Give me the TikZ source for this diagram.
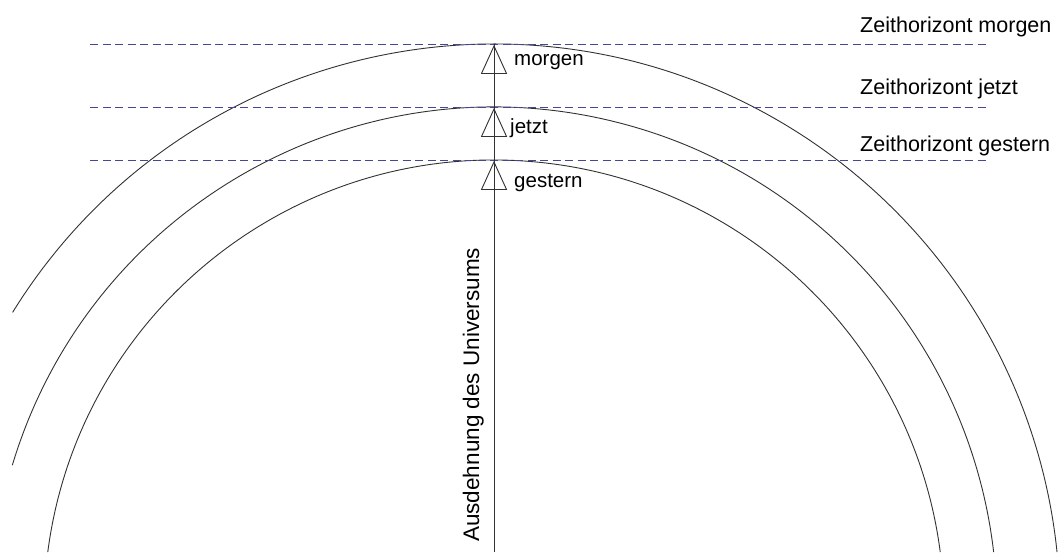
\documentclass[tikz,border=0pt]{standalone}
\usepackage{fontspec}
\setmainfont{Liberation Sans}
\definecolor{hcol}{RGB}{70,70,150}
\definecolor{lcol}{RGB}{50,50,50}
\begin{document}
\begin{tikzpicture}[x=1pt,y=1pt,
  arcline/.style={draw=lcol, line width=0.9pt},
  horizon/.style={draw=hcol, dash pattern=on 8pt off 4.5pt, line width=0.9pt},
  axisline/.style={draw=lcol, line width=0.9pt},
  tri/.style={draw=lcol, line width=0.9pt, fill=white},
  smalllabel/.style={inner sep=0pt, anchor=base west, font=\fontsize{20.5}{24}\selectfont},
  hlabel/.style={inner sep=0pt, anchor=base west, font=\fontsize{21.5}{25}\selectfont},
  vlabel/.style={inner sep=0pt, anchor=base west, rotate=90, font=\fontsize{22.5}{26}\selectfont}]
\useasboundingbox (0,0) rectangle (1064,552);
\fill[white] (0,0) rectangle (1064,552);
\coordinate (C) at (494,-58);
% arcs
\draw[arcline] (C) ++(172.6:450) arc[start angle=172.6, end angle=7.4, radius=450];
\draw[arcline] (C) ++(163.26:503) arc[start angle=163.26, end angle=6.62, radius=503];
\draw[arcline] (C) ++(148.27:566) arc[start angle=148.27, end angle=5.88, radius=566];
% horizons
\coordinate (hmL) at (90,508); \coordinate (hmR) at (988,508);
\coordinate (hjL) at (90,445); \coordinate (hjR) at (988,445);
\coordinate (hgL) at (90,392); \coordinate (hgR) at (988,392);
\draw[horizon] (hmL) -- (hmR);
\draw[horizon] (hjL) -- (hjR);
\draw[horizon] (hgL) -- (hgR);
% axis
\coordinate (top) at (494,508);
\coordinate (bot) at (494,0);
\draw[axisline] (top) -- (bot);
% triangles
\coordinate (tm) at (494,506);
\coordinate (tj) at (494,443);
\coordinate (tg) at (494,390);
\foreach \t in {tm,tj,tg}{
  \draw[tri, fill=none] (\t) -- ++(-12.5,-27.5) -- ++(25,0) -- cycle;
}
% labels
\node[smalllabel] (lm) at (514,486) {morgen};
\node[smalllabel] (lj) at (510,418) {jetzt};
\node[smalllabel] (lg) at (514,364) {gestern};
\node[hlabel] (zm) at (860,519) {Zeithorizont morgen};
\node[hlabel] (zj) at (860,457) {Zeithorizont jetzt};
\node[hlabel] (zg) at (860,400) {Zeithorizont gestern};
\node[vlabel] (va) at (479,10) {Ausdehnung des Universums};
\end{tikzpicture}
\end{document}
